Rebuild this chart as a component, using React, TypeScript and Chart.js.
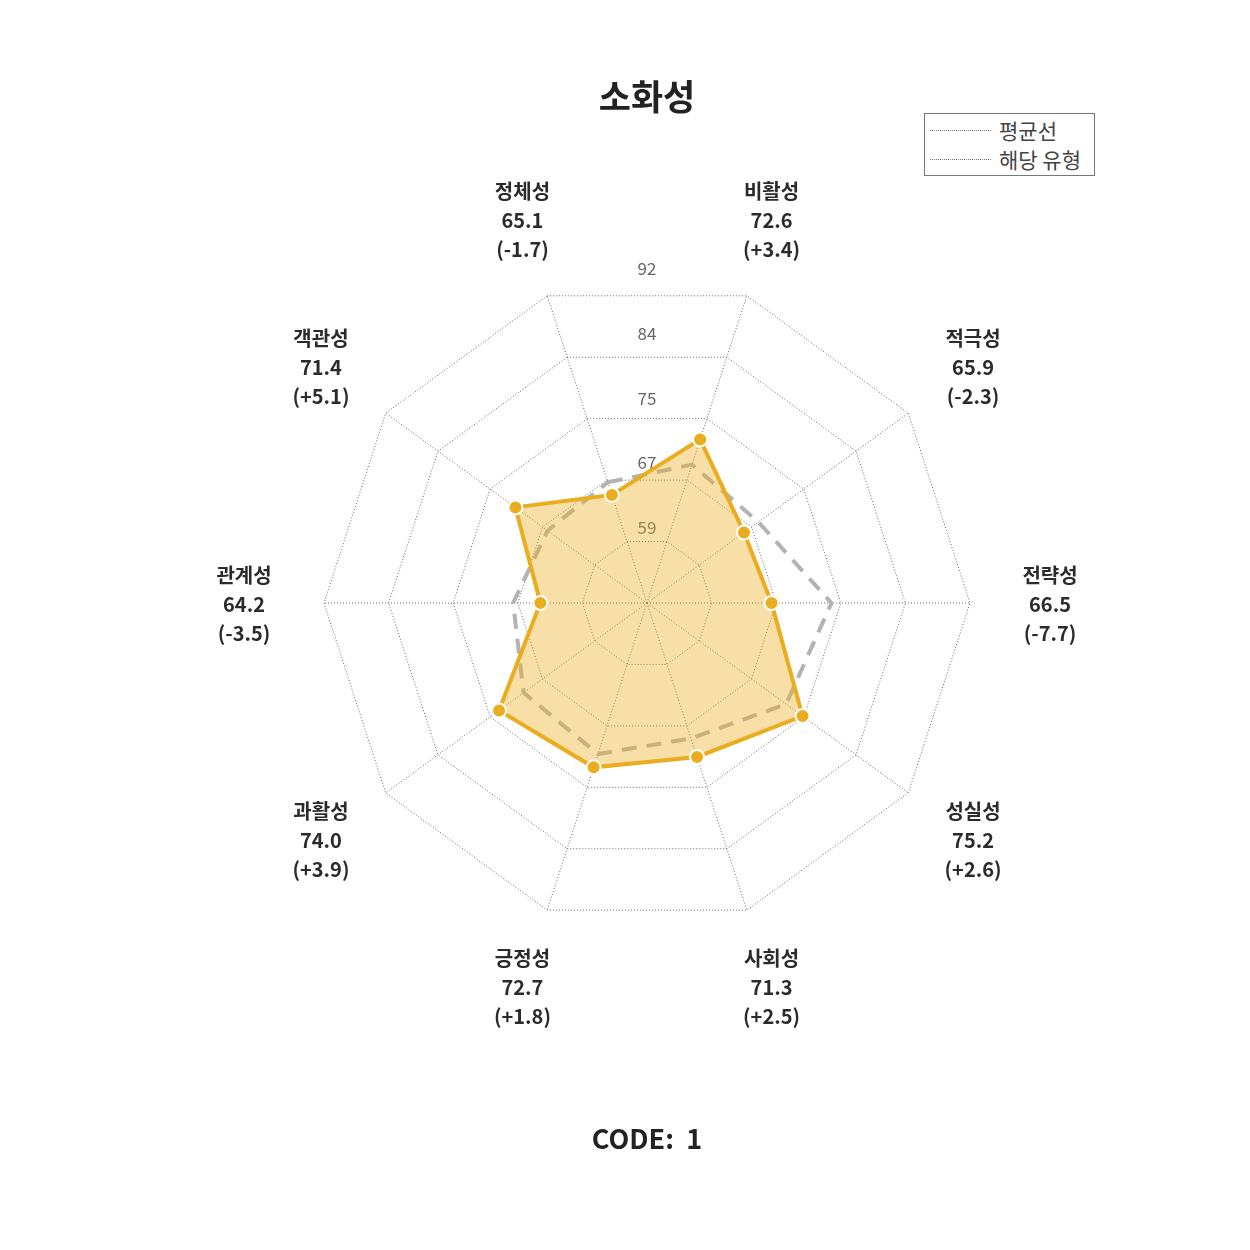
import React, { useEffect, useRef } from 'react';
import { Chart, registerables } from 'chart.js';

Chart.register(...registerables);

const categories = ['정체성', '비활성', '적극성', '전략성', '성실성', '사회성', '긍정성', '과활성', '관계성', '객관성'];
const scores = [65.1, 72.6, 65.9, 66.5, 75.2, 71.3, 72.7, 74.0, 64.2, 71.4];
const diffs = [-1.7, 3.4, -2.3, -7.7, 2.6, 2.5, 1.8, 3.9, -3.5, 5.1];
const averages = [66.8, 69.2, 68.2, 74.2, 72.6, 68.8, 70.9, 70.1, 67.7, 66.3];
const tickLabels = ['59', '67', '75', '84', '92'];
const scaleMin = 50.5;
const scaleMax = 92;

const FONT = '"Noto Sans CJK KR", "Noto Sans", sans-serif';

const labelPlugin = {
  id: 'customLabels',
  beforeDatasetsDraw(chart: any) {
    const scale = chart.scales.r;
    const ctx = chart.ctx;
    ctx.save();
    ctx.font = `17px ${FONT}`;
    ctx.fillStyle = '#666666';
    ctx.textAlign = 'center';
    ctx.textBaseline = 'middle';
    scale.ticks.forEach((t: any, i: number) => {
      if (i === 0) return;
      const d = scale.getDistanceFromCenterForValue(t.value);
      ctx.fillText(tickLabels[i - 1] ?? String(Math.round(t.value)), scale.xCenter, scale.yCenter - d - 11);
    });
    ctx.restore();
  },
  afterDraw(chart: any) {
    const scale = chart.scales.r;
    const ctx = chart.ctx;
    ctx.save();
    ctx.fillStyle = '#2b2b2b';
    ctx.textAlign = 'center';
    ctx.textBaseline = 'middle';
    categories.forEach((name, i) => {
      const p = scale.getPointPosition(i, scale.drawingArea + 80);
      const sign = diffs[i] > 0 ? '+' : '';
      const lines = [name, scores[i].toFixed(1), `(${sign}${diffs[i].toFixed(1)})`];
      lines.forEach((txt, k) => {
        ctx.font = `bold 20px ${FONT}`;
        ctx.fillText(txt, p.x, p.y + 1 + (k - 1) * 29);
      });
    });
    ctx.restore();
  },
};

export default function App() {
  const ref = useRef<HTMLCanvasElement>(null);

  useEffect(() => {
    if (!ref.current) return;
    const chart = new Chart(ref.current, {
      type: 'radar',
      data: {
        labels: categories,
        datasets: [
          {
            label: '해당 유형',
            data: scores,
            borderColor: '#EBAD20',
            backgroundColor: 'rgba(238,176,34,0.4)',
            borderWidth: 4,
            fill: true,
            pointRadius: 7,
            pointBorderWidth: 2,
            pointBorderColor: '#ffffff',
            pointBackgroundColor: '#EBAD20',
            tension: 0,
          },
          {
            label: '평균선',
            data: averages,
            borderColor: '#B3B3B3',
            borderWidth: 4,
            borderDash: [15, 10],
            fill: false,
            pointRadius: 0,
            tension: 0,
          },
        ],
      },
      options: {
        responsive: false,
        animation: false,
        layout: { padding: { left: 324, right: 280, top: 280, bottom: 324 } },
        plugins: {
          legend: { display: false },
          tooltip: { enabled: false },
          title: { display: false },
        },
        scales: {
          r: {
            min: scaleMin,
            max: scaleMax,
            startAngle: 342,
            ticks: { display: false, count: 6 },
            pointLabels: { display: false },
            grid: { color: '#666666', lineWidth: 1, borderDash: [1, 2] } as any,
            border: { dash: [1, 2] } as any,
            angleLines: { color: '#666666', lineWidth: 1, borderDash: [1, 2] },
          },
        },
      },
      plugins: [labelPlugin],
    });
    return () => chart.destroy();
  }, []);

  return (
    <div style={{ position: 'absolute', left: 0, top: 0, width: 1250, height: 1250, background: '#fff', fontFamily: FONT }}>
      <canvas ref={ref} width={1250} height={1250} style={{ position: 'absolute', left: 0, top: 0, width: 1250, height: 1250 }} />
      <div style={{ position: 'absolute', left: 447, top: 70, width: 400, height: 50, lineHeight: '50px', textAlign: 'center', fontSize: 35, fontWeight: 'bold', color: '#222' }}>소화성</div>
      <div style={{ position: 'absolute', left: 447, top: 1113, width: 400, height: 50, lineHeight: '50px', textAlign: 'center', fontSize: 27, fontWeight: 'bold', color: '#222' }}>CODE:&nbsp; 1</div>
      <div style={{ position: 'absolute', left: 924, top: 113, width: 171, height: 63, border: '1px solid #777', boxSizing: 'border-box', background: '#fff' }}>
        {['평균선', '해당 유형'].map((t, i) => (
          <div key={t} style={{ position: 'absolute', left: 0, top: 2 + i * 29, height: 28, display: 'flex', alignItems: 'center' }}>
            <div style={{ marginLeft: 5, width: 61, borderTop: '1px dotted #777' }} />
            <div style={{ marginLeft: 8, fontSize: 21, color: '#444', whiteSpace: 'nowrap' }}>{t}</div>
          </div>
        ))}
      </div>
    </div>
  );
}
